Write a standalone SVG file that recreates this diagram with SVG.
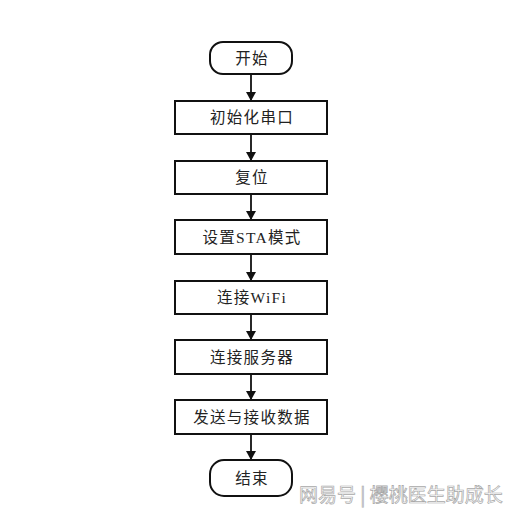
<svg xmlns="http://www.w3.org/2000/svg" width="522" height="520" viewBox="0 0 522 520">
<defs>
<style>
.box{fill:#fff;stroke:#111;stroke-width:2}
.t{font-family:"Liberation Serif","Noto Sans CJK SC",serif;font-size:15.5px;letter-spacing:1.3px;fill:#222;text-anchor:middle;dominant-baseline:central}
.c{stroke:#111;stroke-width:1.8;fill:none;marker-end:url(#ah)}
.wm{font-family:"Noto Sans CJK SC",sans-serif;font-size:19px;fill:#fff;stroke:#a8a8a8;stroke-width:0.7}
</style>
<marker id="ah" markerWidth="10" markerHeight="10" refX="8" refY="5" orient="auto" markerUnits="userSpaceOnUse">
<path d="M0,0 L9,5 L0,10 Z" fill="#111"/>
</marker>
</defs>
<rect width="522" height="520" fill="#fff"/>
<g id="connectors">
<line class="c" x1="251" y1="74" x2="251" y2="100"/>
<line class="c" x1="251" y1="134" x2="251" y2="160"/>
<line class="c" x1="251" y1="194" x2="251" y2="219"/>
<line class="c" x1="251" y1="254" x2="251" y2="280"/>
<line class="c" x1="251" y1="314" x2="251" y2="339"/>
<line class="c" x1="251" y1="374" x2="251" y2="399"/>
<line class="c" x1="251" y1="434" x2="251" y2="459"/>
</g>
<g id="start"><rect class="box" x="210" y="42" width="82" height="32" rx="13"/><text class="t" x="252" y="58">开始</text></g>
<g id="n1"><rect class="box" x="175" y="101" width="152" height="33"/><text class="t" x="252" y="117.5">初始化串口</text></g>
<g id="n2"><rect class="box" x="175" y="161" width="152" height="33"/><text class="t" x="252" y="177.5">复位</text></g>
<g id="n3"><rect class="box" x="175" y="220" width="152" height="34"/><text class="t" x="252" y="237">设置STA模式</text></g>
<g id="n4"><rect class="box" x="175" y="281" width="152" height="33"/><text class="t" x="252" y="297.5">连接WiFi</text></g>
<g id="n5"><rect class="box" x="175" y="340" width="152" height="34"/><text class="t" x="252" y="357">连接服务器</text></g>
<g id="n6"><rect class="box" x="175" y="400" width="152" height="34"/><text class="t" x="252" y="417">发送与接收数据</text></g>
<g id="end"><rect class="box" x="210" y="460" width="82" height="36" rx="14"/><text class="t" x="252" y="478">结束</text></g>
<text class="wm" x="299" y="502">网易号 | 樱桃医生助成长</text>
</svg>
